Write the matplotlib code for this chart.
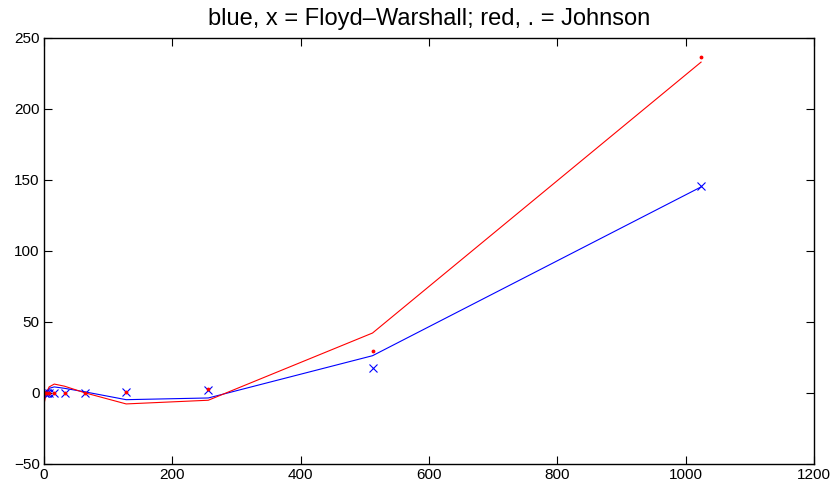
import matplotlib
matplotlib.use("Agg")
import matplotlib.pyplot as plt

plt.rcParams['font.family'] = ['Liberation Sans', 'DejaVu Sans']

sizes = [1, 2, 4, 8, 16, 32, 64, 128, 256, 512, 1024]
fw_times = [0, 0, 0, 0, 0, 0, 0, 0.2, 2, 17, 145.5]
johnson_times = [0, 0, 0, 0, 0, 0, 0, 0.2, 2.8, 29.5, 236.5]
fw_fit = [-2, -1, 1, 3, 4, 3, 0.5, -5, -3.8, 26, 145]
johnson_fit = [-6, -4, 0, 4, 6, 4.5, -0.2, -8, -5.4, 42, 233]

title = "blue, x = Floyd\u2013Warshall; red, . = Johnson"
xticks = [0, 200, 400, 600, 800, 1000, 1200]
yticks = [-50, 0, 50, 100, 150, 200, 250]

fig = plt.figure(figsize=(8.37, 4.84), dpi=100)
ax = fig.add_axes([44 / 837, 1 - 463.5 / 484, 770 / 837, 425.5 / 484])

ax.plot(sizes, fw_fit, color='blue', lw=0.8)
ax.plot(sizes, johnson_fit, color='red', lw=0.8)
ax.plot(sizes, fw_times, 'x', color='blue', ms=5.5, mew=0.8)
ax.plot(sizes, johnson_times, '.', color='red', ms=3.5)

ax.set_xlim(0, 1200)
ax.set_ylim(-50, 250)
ax.set_xticks(xticks)
ax.set_yticks(yticks)
ax.tick_params(direction='in', top=True, right=True, labelsize=11, length=5.5, width=0.8, pad=3)
for s in ax.spines.values():
    s.set_linewidth(1.0)
ax.set_title(title, fontsize=17, pad=9)

fig.savefig("out.png", dpi=100)
